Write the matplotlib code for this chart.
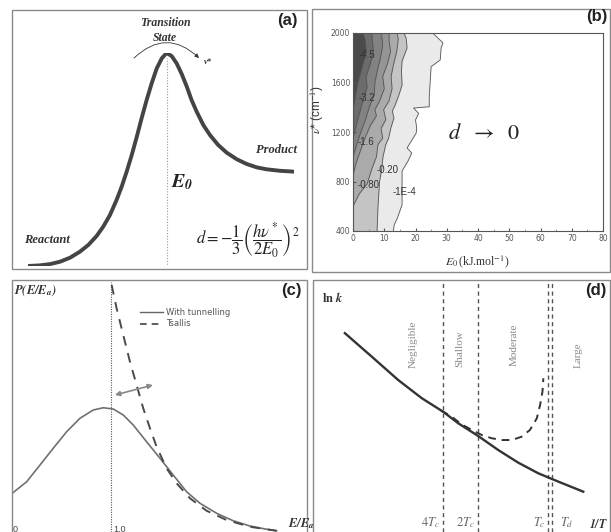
import matplotlib.pyplot as plt
from matplotlib.patches import Rectangle, FancyArrowPatch
from matplotlib.lines import Line2D

plt.rcParams['mathtext.fontset'] = 'stix'
plt.rcParams['font.family'] = ['DejaVu Sans']

# === (a) potential energy profile (reaction coordinate, relative energy) ===
rxn_coord = [0, .045, .083, .120, .158, .195, .227, .258, .283, .308, .333, .352,
             .371, .390, .409, .427, .446, .465, .484, .503, .521, .540, .559, .578,
             .597, .615, .634, .659, .684, .715, .747, .785, .822, .860, .897, .947, 1.0]
energy = [0, .003, .009, .020, .039, .067, .099, .141, .185, .239, .310, .372,
          .443, .521, .607, .693, .779, .858, .928, .975, 1.0, .986, .951, .901,
          .842, .779, .725, .662, .615, .568, .532, .501, .479, .463, .454, .447, .443]

# === (b) contour lines of d, read as (nu*, E0) boundaries ===
levels = ['-4.5', '-3.2', '-2.4', '-1.6', '-0.80', '-0.20', '-1E-4']
nu_45 = [1380, 1500, 1600, 1700, 1850, 1950, 2000]
e0_45 = [0, 0.8, 1.5, 2.6, 4.2, 3.8, 3.2]
nu_32 = [1150, 1300, 1480, 1560, 1650, 1750, 1850, 1950, 2000]
e0_32 = [0, 1.5, 3.5, 4.5, 4.2, 5.5, 6.5, 6.2, 6.0]
nu_24 = [1000, 1100, 1200, 1300, 1400, 1500, 1600, 1700, 1800, 1900, 2000]
e0_24 = [0, 1.2, 2.5, 4.0, 5.2, 6.8, 7.0, 7.8, 8.8, 9.5, 9.1]
nu_16 = [850, 950, 1130, 1250, 1330, 1380, 1450, 1550, 1650, 1750, 1850, 1950, 2000]
e0_16 = [0, 1.0, 3.5, 5.5, 7.5, 7.0, 8.5, 10.0, 9.5, 11.0, 12.0, 11.5, 11.6]
nu_08 = [600, 700, 780, 900, 1000, 1100, 1150, 1230, 1300, 1380, 1450, 1550, 1650,
         1750, 1850, 1950, 2000]
e0_08 = [0, 2.0, 4.5, 6.0, 7.5, 8.0, 9.5, 9.0, 10.5, 9.8, 11.5, 12.5, 12.2, 13.0,
         14.0, 14.5, 14.1]
nu_02 = [400, 600, 800, 900, 1000, 1100, 1150, 1232, 1313, 1370, 1418, 1500, 1580,
         1693, 1773, 1879, 1960, 2000]
e0_02 = [7.7, 8.0, 8.5, 9.2, 9.6, 10.5, 11.4, 12.1, 13.1, 12.6, 13.5, 14.7, 15.7,
         15.5, 15.7, 17.3, 17.0, 16.3]
nu_00 = [400, 450, 505, 612, 885, 965, 1030, 1071, 1190, 1230, 1297, 1350, 1394,
         1404, 1485, 1728, 1782, 1879, 1920, 2000]
e0_00 = [12.9, 13.2, 14.2, 15.7, 15.7, 17.6, 18.8, 17.3, 20.2, 20.4, 20.0, 21.0,
         19.4, 24.4, 24.4, 25.0, 27.9, 28.2, 28.8, 25.5]
label_e0 = [4.4, 4.4, None, 4.1, 4.9, 11.0, 16.6]
label_nu = [1822, 1475, None, 1120, 772, 893, 715]

# === (c) energy distributions ===
ratio_tun = [0.003, 0.148, 0.283, 0.417, 0.552, 0.687, 0.821, 0.922, 1.023, 1.124,
             1.225, 1.360, 1.495, 1.629, 1.764, 1.899, 2.067, 2.235, 2.404, 2.572, 2.673]
p_tun = [0.155, 0.201, 0.268, 0.335, 0.401, 0.455, 0.488, 0.497, 0.492, 0.468,
         0.428, 0.361, 0.295, 0.228, 0.161, 0.115, 0.075, 0.045, 0.024, 0.011, 0.005]
ratio_ts = [1.007, 1.057, 1.124, 1.192, 1.259, 1.326, 1.394, 1.461, 1.562, 1.663,
            1.798, 1.966, 2.168, 2.404, 2.673]
p_ts = [0.988, 0.895, 0.788, 0.681, 0.588, 0.495, 0.415, 0.341, 0.255, 0.195,
        0.135, 0.085, 0.048, 0.021, 0.005]

# === (d) Arrhenius plot ===
inv_T = [0.107, 0.197, 0.286, 0.365, 0.437, 0.488, 0.553, 0.622, 0.689, 0.756, 0.823, 0.907]
lnk = [0.789, 0.696, 0.603, 0.531, 0.477, 0.431, 0.382, 0.325, 0.275, 0.233, 0.200, 0.160]
inv_T_ts = [0.430, 0.465, 0.499, 0.533, 0.566, 0.600, 0.633, 0.667, 0.700, 0.728,
            0.751, 0.762, 0.770, 0.773]
lnk_ts = [0.482, 0.458, 0.427, 0.405, 0.385, 0.372, 0.365, 0.365, 0.378, 0.405,
          0.451, 0.504, 0.557, 0.610]
regime_bounds = [0.435, 0.553, 0.790, 0.803]
bound_labels = [r'$4T_c$', r'$2T_c$', r'$T_c$', r'$T_d$']
regimes = ['Negligible', 'Shallow', 'Moderate', 'Large']
regime_x = [0.337, 0.493, 0.676, 0.890]
regime_y = [0.746, 0.726, 0.742, 0.702]

W, H = 611, 532


def fx(px):
    return px / W


def fy(py):
    return 1 - py / H


fig = plt.figure(figsize=(6.11, 5.32), dpi=100)

# panel frames
for x0, y0, x1, y1 in [(12, 10, 307, 269), (312, 9, 610, 272),
                       (12, 280, 307, 540), (313, 280, 610, 540)]:
    fig.add_artist(Rectangle((fx(x0), fy(y1)), fx(x1) - fx(x0), fy(y0) - fy(y1),
                             transform=fig.transFigure, fill=False,
                             edgecolor='#8a8a8a', lw=1.0))

serif = 'Liberation Serif'
sans = 'Liberation Sans'

# ---------------- (a) ----------------
ax_a = fig.add_axes([fx(28), fy(266), 266 / W, 213 / H])
ax_a.set_xlim(0, 1)
ax_a.set_ylim(0, 1)
ax_a.axis('off')
ax_a.plot(rxn_coord, energy, color='#444444', lw=2.8, solid_capstyle='round',
          solid_joinstyle='round')
peak = energy.index(max(energy))
ax_a.plot([rxn_coord[peak]] * 2, [-0.005, 0.975], color='#999999', lw=0.8,
          ls=(0, (1, 1.5)))
ax_a.plot([rxn_coord[0], rxn_coord[peak]], [-0.005, -0.005], color='#999999',
          lw=0.8, ls=(0, (1, 1.5)))

fig.text(fx(165), fy(23), 'Transition', family=serif, weight='bold', style='italic',
         fontsize=8.5, color='#333333', ha='center', va='center')
fig.text(fx(165), fy(38), 'State', family=serif, weight='bold', style='italic',
         fontsize=8.5, color='#333333', ha='center', va='center')
fig.add_artist(FancyArrowPatch((fx(132), fy(60)), (fx(201), fy(60)),
                               transform=fig.transFigure,
                               connectionstyle='arc3,rad=-0.5', arrowstyle='-|>',
                               mutation_scale=6, lw=0.6, color='#333333'))
fig.text(fx(208), fy(62), 'ν*', family=serif, weight='bold', style='italic',
         fontsize=6, color='#333333', ha='center', va='center')
fig.text(fx(277), fy(150), 'Product', family=serif, weight='bold', style='italic',
         fontsize=9, color='#333333', ha='center', va='center')
fig.text(fx(47), fy(240), 'Reactant', family=serif, weight='bold', style='italic',
         fontsize=9, color='#333333', ha='center', va='center')
fig.text(fx(171), fy(182), r'$\mathbfit{E_0}$', fontsize=14, color='#222222',
         ha='left', va='center')
fig.text(fx(248), fy(240), r'$d=-\dfrac{1}{3}\left(\dfrac{h\nu^*}{2E_0}\right)^2$',
         fontsize=12, color='#222222', ha='center', va='center')
fig.text(fx(287), fy(21), '(a)', family=sans, weight='bold', fontsize=12,
         color='#222222', ha='center', va='center')

# ---------------- (b) ----------------
ax_b = fig.add_axes([fx(353), fy(231), 250 / W, 198 / H])
boundaries = [(nu_00, e0_00), (nu_02, e0_02), (nu_08, e0_08), (nu_16, e0_16),
              (nu_24, e0_24), (nu_32, e0_32), (nu_45, e0_45)]
band_colors = ['#eaeaea', '#c4c4c4', '#aaaaaa', '#959595', '#828282', '#6c6c6c', '#4a4a4a']
for (nu, e0), c in zip(boundaries, band_colors):
    ax_b.fill_betweenx(nu, 0, e0, color=c, lw=0)
for nu, e0 in boundaries:
    ax_b.plot(e0, nu, color='#555555', lw=0.6)
for lab, ex, ny in zip(levels, label_e0, label_nu):
    if ex is not None:
        ax_b.text(ex, ny, lab, fontsize=7, family=sans, color='#333333',
                  ha='center', va='center')
ax_b.text(42, 1190, r'$d\ \ \rightarrow\ \ 0$', fontsize=16, color='#222222',
          ha='center', va='center')
ax_b.set_xlim(0, 80)
ax_b.set_ylim(400, 2000)
ax_b.set_xticks(range(0, 81, 10))
ax_b.set_xticks(range(5, 80, 10), minor=True)
ax_b.set_yticks(range(400, 2001, 400))
ax_b.tick_params(labelsize=5.5, colors='#555555', length=2, direction='in', pad=2)
ax_b.tick_params(which='minor', length=1.5, direction='in', colors='#888888')
for s in ax_b.spines.values():
    s.set_color('#555555')
    s.set_linewidth(0.8)
fig.text(fx(317), fy(110), r'$\nu$* (cm$^{-1}$)', family=sans, fontsize=8.5,
         color='#333333', rotation=90, ha='center', va='center')
fig.text(fx(477), fy(262), r'$E_0\,$(kJ.mol$^{-1}$)', family=serif, fontsize=8.5,
         color='#333333', ha='center', va='center')
fig.text(fx(597), fy(16), '(b)', family=sans, weight='bold', fontsize=12,
         color='#222222', ha='center', va='center')

# ---------------- (c) ----------------
ax_c = fig.add_axes([fx(12), 0, 287 / W, 250 / H])
ax_c.set_xlim(0, 2.9)
ax_c.set_ylim(0, 1)
ax_c.axis('off')
ax_c.axvline(1.0, color='#555555', lw=0.8, ls=(0, (1, 1.2)))
ax_c.plot(ratio_tun, p_tun, color='#707070', lw=1.2, solid_joinstyle='round')
ax_c.plot(ratio_ts, p_ts, color='#4a4a4a', lw=1.4, dashes=(5, 4))
ax_c.annotate('', xy=(1.424, 0.588), xytext=(1.04, 0.548),
              arrowprops=dict(arrowstyle='<|-|>', color='#888888', lw=1.2,
                              mutation_scale=7, shrinkA=0, shrinkB=0))
leg = fig.legend([Line2D([], [], color='#666666', lw=1.0),
                  Line2D([], [], color='#444444', lw=1.2, dashes=(4, 3))],
                 ['With tunnelling', 'Tsallis'], loc='upper left',
                 bbox_to_anchor=(fx(140), fy(308)), frameon=False, fontsize=6,
                 handlelength=2.8, labelspacing=0.3, borderpad=0, handletextpad=0.3,
                 borderaxespad=0)
for t in leg.get_texts():
    t.set_color('#555555')
fig.text(fx(14), fy(291), r'$\mathbfit{P(E/E_a)}$', fontsize=9, color='#333333',
         ha='left', va='center')
fig.text(fx(291), fy(291), '(c)', family=sans, weight='bold', fontsize=12,
         color='#222222', ha='center', va='center')
fig.text(fx(13), fy(529), '0', family=sans, fontsize=6.5, color='#444444',
         ha='left', va='center')
fig.text(fx(113), fy(529), '1.0', family=sans, fontsize=6.5, color='#444444',
         ha='left', va='center')
fig.text(fx(288), fy(524), r'$\mathbfit{E/E_a}$', fontsize=9, color='#333333',
         ha='left', va='center')

# ---------------- (d) ----------------
ax_d = fig.add_axes([fx(313), 0, 298 / W, 252 / H])
ax_d.set_xlim(0, 1)
ax_d.set_ylim(0, 1)
ax_d.axis('off')
for xb in regime_bounds:
    ax_d.axvline(xb, color='#555555', lw=1.0, dashes=(3, 2.5))
ax_d.plot(inv_T, lnk, color='#333333', lw=1.7, solid_joinstyle='round')
ax_d.plot(inv_T_ts, lnk_ts, color='#333333', lw=1.4, dashes=(4, 3))
for name, xr, yr in zip(regimes, regime_x, regime_y):
    ax_d.text(xr, yr, name, family=serif, fontsize=8, color='#8a8a8a',
              rotation=90, ha='center', va='center')
for xb, lab, side in zip(regime_bounds, bound_labels, ['r', 'r', 'r', 'l']):
    if side == 'r':
        ax_d.text(xb - 0.008, 0.036, lab, fontsize=9, color='#666666',
                  ha='right', va='center')
    else:
        ax_d.text(xb + 0.025, 0.036, lab, fontsize=9, color='#666666',
                  ha='left', va='center')
fig.text(fx(608), fy(524), r'$\mathbfit{1/T}$', fontsize=8.5, color='#333333',
         ha='right', va='center')
fig.text(fx(322), fy(298), r'$\mathbf{ln}\ \mathbfit{k}$', fontsize=9,
         color='#333333', ha='left', va='center')
fig.text(fx(596), fy(291), '(d)', family=sans, weight='bold', fontsize=12,
         color='#222222', ha='center', va='center')

fig.savefig('out.png', dpi=100)
